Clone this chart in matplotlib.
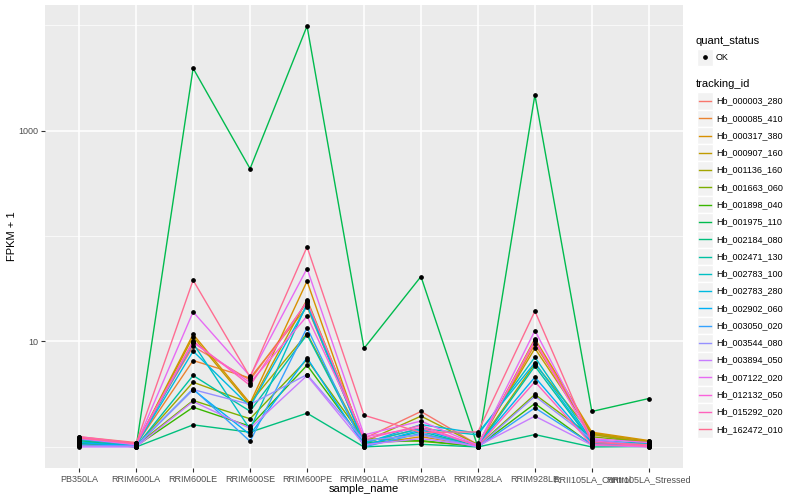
import matplotlib
matplotlib.use('Agg')
import matplotlib.pyplot as plt
from matplotlib.patches import Rectangle
import numpy as np

plt.rcParams['font.family'] = ['Liberation Sans', 'DejaVu Sans']

samples = ['PB350LA', 'RRIM600LA', 'RRIM600LE', 'RRIM600SE', 'RRIM600PE', 'RRIM901LA',
           'RRIM928BA', 'RRIM928LA', 'RRIM928LE', 'RRII105LA_Control', 'RRII105LA_Stressed']

tracking_ids = ['Hb_000003_280', 'Hb_000085_410', 'Hb_000317_380', 'Hb_000907_160',
                'Hb_001136_160', 'Hb_001663_060', 'Hb_001898_040', 'Hb_001975_110',
                'Hb_002184_080', 'Hb_002471_130', 'Hb_002783_100', 'Hb_002783_280',
                'Hb_002902_060', 'Hb_003050_020', 'Hb_003544_080', 'Hb_003894_050',
                'Hb_007122_020', 'Hb_012132_050', 'Hb_015292_020', 'Hb_162472_010']

colors = ['#F8766D', '#EA8331', '#D89000', '#C09B00', '#A3A500', '#7CAE00', '#39B600',
          '#00BB4E', '#00BF7D', '#00C1A3', '#00BFC4', '#00BAE0', '#00B0F6', '#35A2FF',
          '#9590FF', '#C77CFF', '#E76BF3', '#FA62DB', '#FF62BC', '#FF6C91']

# FPKM + 1 per tracking id, one value per sample
fpkm = [
    [1.25, 1.10, 9.0, 4.30, 23.5, 1.20, 2.17, 1.05, 10.1, 1.30, 1.12],
    [1.15, 1.05, 6.6, 4.50, 21.3, 1.10, 1.50, 1.02, 9.4, 1.35, 1.10],
    [1.10, 1.04, 11.7, 2.60, 37.3, 1.05, 1.25, 1.03, 10.6, 1.38, 1.15],
    [1.10, 1.03, 11.1, 2.50, 25.0, 1.15, 1.30, 1.08, 8.6, 1.35, 1.13],
    [1.05, 1.02, 4.11, 2.62, 11.9, 1.12, 1.96, 1.05, 6.15, 1.32, 1.08],
    [1.08, 1.03, 2.76, 1.85, 6.74, 1.20, 1.13, 1.02, 3.15, 1.25, 1.10],
    [1.06, 1.02, 2.38, 1.57, 5.96, 1.10, 1.15, 1.01, 2.58, 1.05, 1.02],
    [1.10, 1.00, 3900, 435, 9800, 8.6, 41.3, 1.00, 2180, 2.17, 2.88],
    [1.15, 1.00, 1.62, 1.38, 2.09, 1.00, 1.06, 1.00, 1.31, 1.00, 1.01],
    [1.12, 1.01, 4.76, 2.18, 11.6, 1.05, 1.40, 1.02, 5.84, 1.10, 1.05],
    [1.20, 1.03, 9.6, 1.47, 22.9, 1.10, 1.50, 1.30, 7.1, 1.15, 1.08],
    [1.18, 1.04, 8.1, 2.41, 21.9, 1.08, 1.63, 1.35, 6.3, 1.12, 1.06],
    [1.10, 1.02, 3.5, 1.31, 7.0, 1.03, 1.45, 1.05, 4.59, 1.08, 1.02],
    [1.05, 1.01, 3.56, 1.13, 13.5, 1.00, 1.35, 1.00, 2.35, 1.06, 1.04],
    [1.02, 1.02, 3.5, 2.53, 4.86, 1.15, 1.30, 1.00, 3.03, 1.18, 1.03],
    [1.00, 1.00, 2.7, 1.50, 4.76, 1.05, 1.20, 1.02, 1.96, 1.04, 1.00],
    [1.20, 1.05, 19.1, 4.69, 49.2, 1.30, 1.76, 1.04, 12.7, 1.20, 1.10],
    [1.22, 1.06, 9.8, 4.06, 17.4, 1.25, 1.52, 1.03, 10.3, 1.15, 1.00],
    [1.25, 1.08, 10.1, 3.83, 24.1, 1.18, 1.60, 1.02, 4.15, 1.05, 1.02],
    [1.22, 1.08, 38.1, 4.60, 79.0, 2.00, 1.37, 1.39, 19.4, 1.10, 1.05],
]

fig = plt.figure(figsize=(8, 5), dpi=100)
ax = fig.add_axes([45 / 800, 1 - 468 / 500, 638 / 800, 463 / 500])
ax.set_facecolor('#EBEBEB')

x = np.arange(len(samples))
for vals, col in zip(fpkm, colors):
    ax.plot(x, vals, color=col, lw=1.0, zorder=3)
for vals in fpkm:
    ax.plot(x, vals, 'o', color='black', ms=2.4, zorder=4, linestyle='none')

ax.set_yscale('log')
allv = np.log10(np.array(fpkm))
lo, hi = allv.min(), allv.max()
pad = 0.05 * (hi - lo)
ax.set_ylim(10 ** (lo - pad), 10 ** (hi + pad))
ax.set_xlim(-0.6, len(samples) - 0.4)

ax.set_yticks([10, 1000])
ax.set_yticklabels(['10', '1000'])
ax.set_yticks([1, 100, 10000], minor=True)
ax.yaxis.set_minor_formatter(plt.NullFormatter())
ax.set_xticks(x)
ax.set_xticklabels(samples)

ax.grid(True, which='major', color='white', lw=1.1, zorder=0)
ax.grid(True, which='minor', axis='y', color='white', lw=0.5, zorder=0)
ax.set_axisbelow(True)
for s in ax.spines.values():
    s.set_visible(False)
ax.tick_params(which='major', length=3, width=0.8, color='#333333', labelsize=6.5,
               labelcolor='#4D4D4D', pad=2)
ax.tick_params(which='minor', length=0)
ax.set_xlabel('sample_name', fontsize=8, labelpad=0)
ax.set_ylabel('FPKM + 1', fontsize=8, labelpad=1)

# legend drawn in pixel coordinates
lg = fig.add_axes([0, 0, 1, 1], zorder=5)
lg.set_xlim(0, 800)
lg.set_ylim(500, 0)
lg.axis('off')
lg.text(696, 41, 'quant_status', fontsize=8, va='center')
lg.add_patch(Rectangle((696.5, 48.5), 16, 17, facecolor='#F2F2F2', edgecolor='white', lw=1))
lg.plot([704.5], [57], 'o', color='black', ms=2.4)
lg.text(716, 57, 'OK', fontsize=6.5, va='center')
lg.text(696, 84, 'tracking_id', fontsize=8, va='center')
step = 17.28
for i, (tid, col) in enumerate(zip(tracking_ids, colors)):
    yc = 101 + i * step
    lg.add_patch(Rectangle((696.5, yc - step / 2), 16, step, facecolor='#F2F2F2',
                           edgecolor='white', lw=1))
    lg.plot([698.5, 710.5], [yc, yc], color=col, lw=1.0)
    lg.text(716, yc, tid, fontsize=6.5, va='center')

fig.savefig('out.png', dpi=100)
